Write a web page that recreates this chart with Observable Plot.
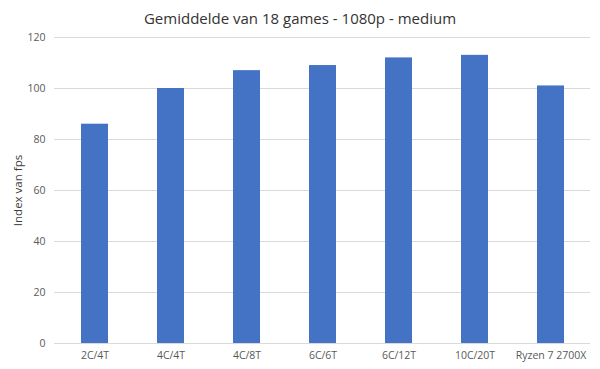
<!DOCTYPE html>
<html>
<head>
<meta charset="utf-8">
<script src="https://cdn.jsdelivr.net/npm/d3@7"></script>
<script src="https://cdn.jsdelivr.net/npm/@observablehq/plot@0.6"></script>
<style>
  html, body { margin: 0; padding: 0; background: #fff; }
  #wrap { position: relative; width: 600px; height: 369px; overflow: hidden; font-family: "Open Sans", sans-serif; }
  #title { position: absolute; left: 0; top: 8px; width: 600px; text-align: center; font-size: 15px; color: #333; font-family: "Open Sans", sans-serif; }
  svg { display: block; }
</style>
</head>
<body>
<div id="wrap">
  <div id="title">Gemiddelde van 18 games - 1080p - medium</div>
  <div id="chart"></div>
</div>
<script>
const categories = ["2C/4T", "4C/4T", "4C/8T", "6C/6T", "6C/12T", "10C/20T", "Ryzen 7 2700X"];
const values = [86, 100, 107, 109, 112, 113, 101];
const yTicks = [0, 20, 40, 60, 80, 100, 120];

const data = categories.map((c, i) => ({category: c, value: values[i]}));

const chart = Plot.plot({
  width: 600,
  height: 369,
  marginTop: 37,
  marginBottom: 26,
  marginLeft: 54,
  marginRight: 10,
  style: {fontFamily: "Open Sans, sans-serif", fontSize: "10.5px", color: "#595959", background: "transparent"},
  x: {domain: categories, paddingInner: 0.65, paddingOuter: 0.325, label: null},
  y: {domain: [0, 120], label: null},
  marks: [
    Plot.gridY(yTicks, {stroke: "#d9d9d9", strokeOpacity: 1}),
    Plot.barY(data, {x: "category", y: "value", fill: "#4472C4"}),
    Plot.ruleY([0], {stroke: "#d9d9d9"}),
    Plot.axisX({tickSize: 0, tickPadding: 8, fontSize: "10.5px"}),
    Plot.axisY(yTicks, {tickSize: 0, tickPadding: 9, label: null, fontSize: "10.5px"}),
    Plot.text(["Index van fps"], {frameAnchor: "left", textAnchor: "middle", dx: -36, rotate: -90, fontSize: 11.5, fill: "#404040"})
  ]
});
document.getElementById("chart").appendChild(chart);
</script>
</body>
</html>
